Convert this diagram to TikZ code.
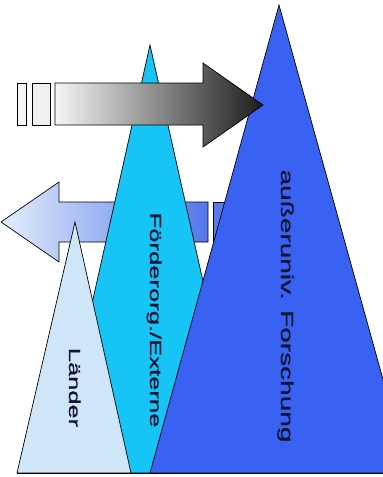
\documentclass[tikz,border=0pt]{standalone}
\usepackage{graphicx}
\usepackage{fontspec}
\setmainfont{Liberation Sans}
\newfontfamily\lblfont[FakeBold=0.8]{Liberation Sans}
\definecolor{blueT}{RGB}{58,98,242}
\definecolor{cyanT}{RGB}{22,196,246}
\definecolor{landT}{RGB}{206,230,248}
\definecolor{larrowL}{RGB}{226,237,251}
\definecolor{larrowR}{RGB}{84,118,234}
\definecolor{lstripe}{RGB}{88,122,238}
\definecolor{rarrowL}{RGB}{246,246,246}
\definecolor{rarrowR}{RGB}{28,28,28}
\definecolor{txtc}{RGB}{20,20,50}
\tikzset{
  outline/.style={draw=black, line width=0.7pt, line join=miter},
  lbl/.style={rotate=-90, anchor=base, inner sep=0pt, text=txtc},
}
\begin{document}
\begin{tikzpicture}[x=1pt,y=-1pt]
\useasboundingbox (0,0) rectangle (383,477);
\clip (0,0) rectangle (383,477);
% left-pointing arrow (behind)
\shadedraw[outline, left color=larrowL, right color=larrowR]
  (1,222) -- (59,182) -- (59,202) -- (208,202) -- (208,242) -- (59,242) -- (59,262) -- cycle;
\filldraw[outline, fill=lstripe] (213,202) rectangle (232,242);
% triangles
\coordinate (cA) at (150,45);
\coordinate (cL) at (54,473);
\coordinate (cR) at (246,473);
\filldraw[outline, fill=cyanT] (cA) -- (cR) -- (cL) -- cycle;
\coordinate (bA) at (279,5);
\coordinate (bL) at (150,473);
\coordinate (bR) at (409,473);
\filldraw[outline, fill=blueT] (bA) -- (bR) -- (bL) -- cycle;
\coordinate (lA) at (75,222);
\coordinate (lL) at (17,473);
\coordinate (lR) at (131,473);
\filldraw[outline, fill=landT] (lA) -- (lR) -- (lL) -- cycle;
\draw[line width=1pt] (lL) -- (383,473);
% right-pointing arrow (front)
\filldraw[outline, fill=rarrowL] (17,83) rectangle (26,125);
\filldraw[outline, fill=rarrowL!95!gray] (32,83) rectangle (50,125);
\shadedraw[outline, left color=rarrowL, right color=rarrowR]
  (55,83) -- (203,83) -- (203,63) -- (263,105) -- (203,147) -- (203,125) -- (55,125) -- cycle;
% labels
\node[lbl, font=\lblfont\fontsize{16}{18}\selectfont] (laender) at (69,387.5) {\scalebox{1.59}[1]{Länder}};
\node[lbl, font=\lblfont\fontsize{16}{18}\selectfont] (foerder) at (150,320) {\scalebox{1.6}[1]{Förderorg./Externe}};
\node[lbl, font=\lblfont\fontsize{17.5}{20}\selectfont] (forschung) at (281,306) {\scalebox{1.6}[1]{außeruniv. Forschung}};
\end{tikzpicture}
\end{document}
